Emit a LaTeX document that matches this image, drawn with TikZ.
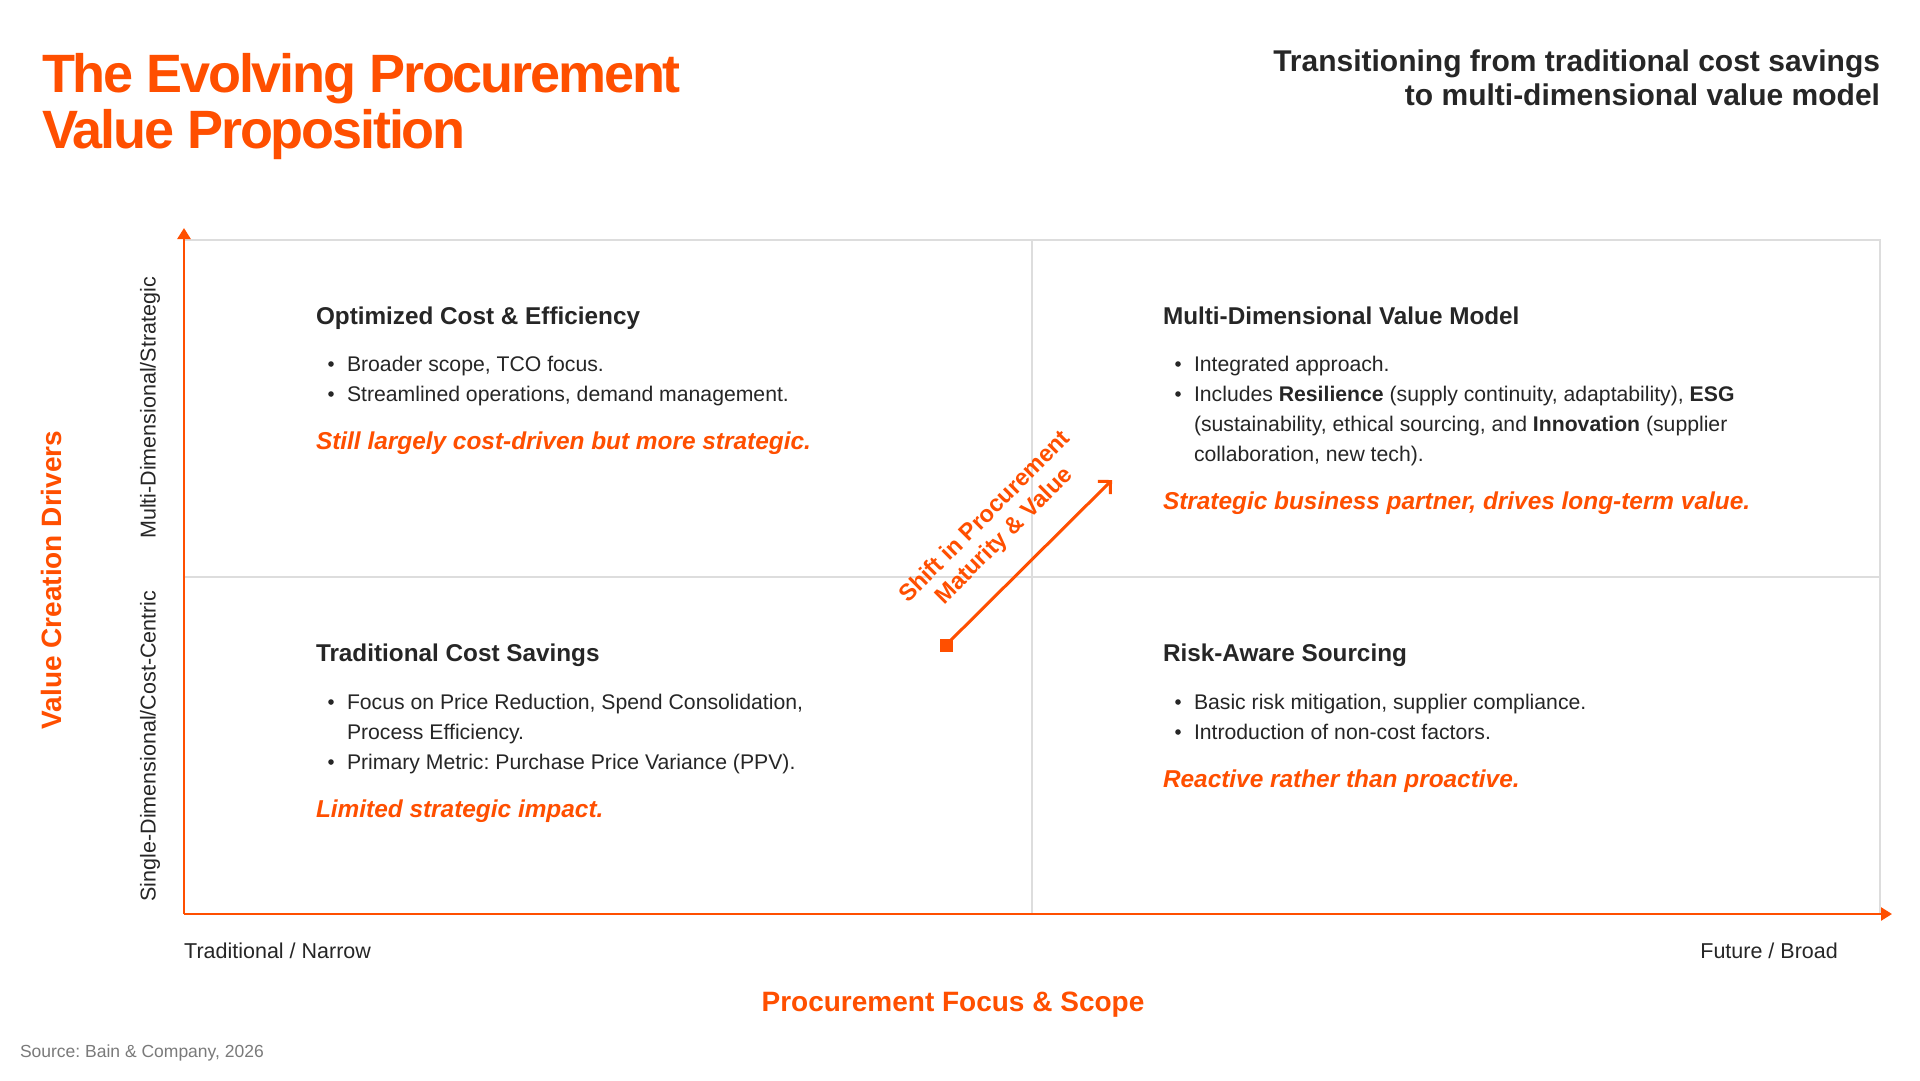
\documentclass[tikz,border=0pt]{standalone}
\usepackage{fontspec}
\setmainfont{Liberation Sans}
\newfontfamily\titlefont[LetterSpace=-4]{Liberation Sans}
\usetikzlibrary{arrows.meta}
\definecolor{accent}{HTML}{FF4F00}
\definecolor{ink}{HTML}{262626}
\definecolor{gridc}{HTML}{DDDDDD}
\definecolor{srcc}{HTML}{7A7A7A}
\frenchspacing
\tikzset{
  txt/.style={inner sep=0pt, outer sep=0pt, anchor=base west},
  title/.style={txt, text=accent, font=\titlefont\bfseries\fontsize{54}{56}\selectfont},
  subtitle/.style={txt, anchor=base east, text=ink, font=\bfseries\fontsize{30}{34}\selectfont},
  qhead/.style={txt, text=ink, font=\bfseries\fontsize{24.3}{30}\selectfont},
  body/.style={txt, text=ink, font=\fontsize{21.2}{30}\selectfont},
  punch/.style={txt, text=accent, font=\bfseries\itshape\fontsize{24.4}{30}\selectfont},
  axislbl/.style={inner sep=0pt, text=ink, font=\fontsize{21.5}{26}\selectfont},
  axistitle/.style={inner sep=0pt, text=accent, font=\bfseries\fontsize{28}{32}\selectfont},
  gridline/.style={draw=gridc, line width=1.5pt},
  axis/.style={draw=accent, line width=2.5pt, -{Triangle[length=11pt,width=13pt]}},
  dot/.style={fill=ink},
}
\newcommand\bulletline[4]{%
  \fill[dot] (#2+15,#3-7) circle[radius=2.8pt];
  \node[body] (#1) at (#2+31,#3) {#4};}
\begin{document}
\begin{tikzpicture}[x=1pt,y=-1pt]
\useasboundingbox (0,0) rectangle (1920,1080);
\fill[white] (0,0) rectangle (1920,1080);

% titles
\node[title] (t1) at (42,92) {The Evolving Procurement};
\node[title] (t2) at (42,148) {Value Proposition};
\node[subtitle] (s1) at (1880,71) {Transitioning from traditional cost savings};
\node[subtitle] (s2) at (1880,105) {to multi-dimensional value model};

% grid
\coordinate (o) at (184,914);
\coordinate (gtl) at (184,240);
\coordinate (gtr) at (1880,240);
\coordinate (gbr) at (1880,914);
\coordinate (mt) at (1032,240);
\coordinate (mb) at (1032,914);
\coordinate (ml) at (184,577);
\coordinate (mr) at (1880,577);
\draw[gridline] (gtl) -- (gtr) -- (gbr);
\draw[gridline] (mt) -- (mb);
\draw[gridline] (ml) -- (mr);

% axes
\coordinate (ytip) at (184,228);
\coordinate (xtip) at (1892,914);
\draw[axis] (o) -- (ytip);
\draw[axis] (o) -- (xtip);

% axis labels
\node[axislbl, rotate=90] (ymulti) at (150,408) {Multi-Dimensional/Strategic};
\node[axislbl, rotate=90] (ysingle) at (150,746) {Single-Dimensional/Cost-Centric};
\node[axistitle, rotate=90] (ytitle) at (51,580) {Value Creation Drivers};
\node[axislbl, anchor=base west] (xleft) at (184,958) {Traditional / Narrow};
\node[axislbl, anchor=base east] (xright) at (1838,958) {Future / Broad};
\node[axistitle, anchor=base] (xtitle) at (953,1011) {Procurement Focus \& Scope};
\node[txt, text=srcc, font=\fontsize{17.5}{20}\selectfont] (src) at (20,1057) {Source: Bain \& Company, 2026};

% quadrant TL
\node[qhead] (tlh) at (316,324) {Optimized Cost \& Efficiency};
\bulletline{tlb1}{316}{371}{Broader scope, TCO focus.}
\bulletline{tlb2}{316}{401}{Streamlined operations, demand management.}
\node[punch] (tlp) at (316,449) {Still largely cost-driven but more strategic.};

% quadrant TR
\node[qhead] (trh) at (1163,324) {Multi-Dimensional Value Model};
\bulletline{trb1}{1163}{371}{Integrated approach.}
\bulletline{trb2}{1163}{401}{Includes \textbf{Resilience} (supply continuity, adaptability), \textbf{ESG}}
\node[body] (trb3) at (1194,431) {(sustainability, ethical sourcing, and \textbf{Innovation} (supplier};
\node[body] (trb4) at (1194,461) {collaboration, new tech).};
\node[punch] (trp) at (1163,509) {Strategic business partner, drives long-term value.};

% quadrant BL
\node[qhead] (blh) at (316,661) {Traditional Cost Savings};
\bulletline{blb1}{316}{709}{Focus on Price Reduction, Spend Consolidation,}
\node[body] (blb2) at (347,739) {Process Efficiency.};
\bulletline{blb3}{316}{769}{Primary Metric: Purchase Price Variance (PPV).}
\node[punch] (blp) at (316,817) {Limited strategic impact.};

% quadrant BR
\node[qhead] (brh) at (1163,661) {Risk-Aware Sourcing};
\bulletline{brb1}{1163}{709}{Basic risk mitigation, supplier compliance.}
\bulletline{brb2}{1163}{739}{Introduction of non-cost factors.}
\node[punch] (brp) at (1163,787) {Reactive rather than proactive.};

% shift arrow
\node[fill=accent, minimum size=13pt, inner sep=0pt] (sq) at (946,645) {};
\coordinate (shiftend) at (1112,480);
\draw[accent, line width=3pt, -{Straight Barb[length=9pt,width=18pt,line width=3pt]}] (sq.center) -- (shiftend);
\node[inner sep=0pt, text=accent, align=center, rotate=45, font=\bfseries\fontsize{23.5}{27}\selectfont] (shiftlbl) at (995,527) {Shift in Procurement\\Maturity \& Value};
\end{tikzpicture}
\end{document}
